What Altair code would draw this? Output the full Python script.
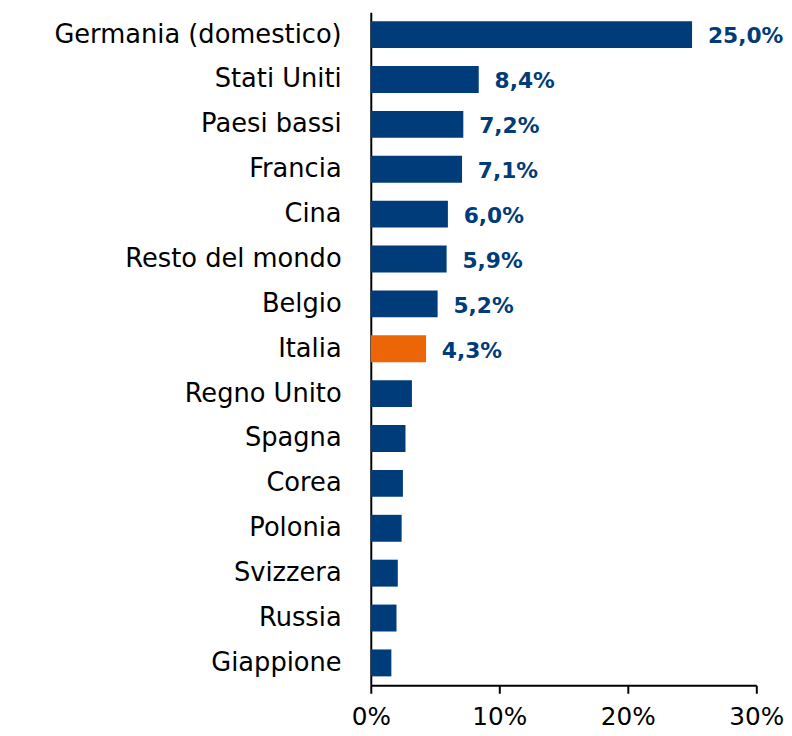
import altair as alt
import pandas as pd

countries = ["Germania (domestico)", "Stati Uniti", "Paesi bassi", "Francia", "Cina",
             "Resto del mondo", "Belgio", "Italia", "Regno Unito", "Spagna", "Corea",
             "Polonia", "Svizzera", "Russia", "Giappione"]
values = [25.0, 8.4, 7.2, 7.1, 6.0, 5.9, 5.2, 4.3, 3.2, 2.7, 2.5, 2.4, 2.1, 2.0, 1.6]
labeled = [True] * 8 + [False] * 7
highlight = ["Italia"]

df = pd.DataFrame({"country": countries, "value": values, "labeled": labeled})
df["share"] = df["value"] / 100
df["hl"] = df["country"].isin(highlight)

FONT = "DejaVu Sans"
BLUE = "#003B7A"
ORANGE = "#EC6608"

y = alt.Y("country:N", sort=countries, title=None,
          scale=alt.Scale(paddingInner=0.4, paddingOuter=0.2),
          axis=alt.Axis(ticks=False, labelFontSize=26, labelFont=FONT, labelColor="black",
                        labelPadding=30, domainColor="black", domainWidth=2, labelLimit=400))
x = alt.X("share:Q", title=None,
          scale=alt.Scale(domain=[0, 0.3], nice=False),
          axis=alt.Axis(values=[0, 0.1, 0.2, 0.3], format=".0%", grid=False,
                        tickSize=8, tickColor="black", tickWidth=2,
                        domainColor="black", domainWidth=2,
                        labelFontSize=25, labelFont=FONT, labelColor="black",
                        labelPadding=12, labelFlush=False))

bars = alt.Chart(df).mark_bar().encode(
    y=y, x=x,
    color=alt.condition("datum.hl", alt.value(ORANGE), alt.value(BLUE)),
)

text = alt.Chart(df).transform_filter("datum.labeled").transform_calculate(
    lbl="replace(format(datum.value, '.1f'), '.', ',') + '%'"
).mark_text(align="left", baseline="middle", dx=16, dy=2, fontSize=22,
            fontWeight="bold", font=FONT, color=BLUE).encode(
    y=alt.Y("country:N", sort=countries), x="share:Q", text="lbl:N")

chart = (bars + text).properties(
    width=390, height=681,
    autosize=alt.AutoSizeParams(type="none"),
    padding={"left": 367, "top": 0, "right": 28, "bottom": 45},
).configure_view(stroke=None)

chart.save("out.html", embed_options={"renderer": "svg", "actions": False})
